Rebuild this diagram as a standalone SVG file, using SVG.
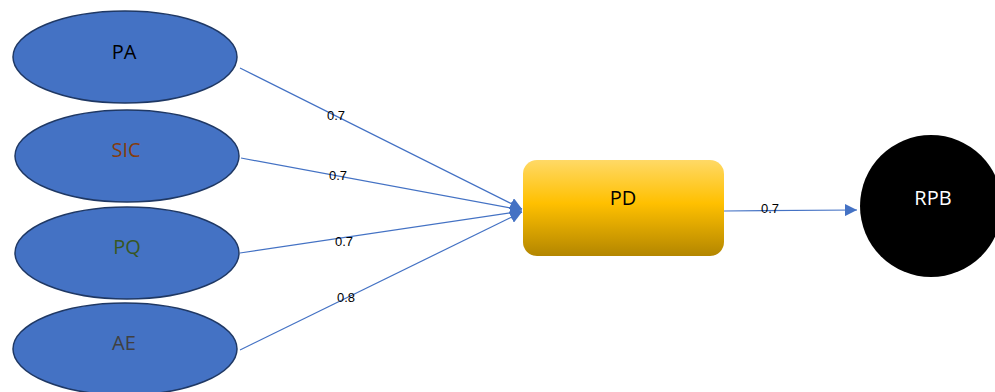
<svg xmlns="http://www.w3.org/2000/svg" width="995" height="392" viewBox="0 0 995 392">
<defs>
<linearGradient id="gold" x1="0" y1="0" x2="0" y2="1">
<stop offset="0" stop-color="#FFD966"/>
<stop offset="0.45" stop-color="#FFC000"/>
<stop offset="1" stop-color="#B38600"/>
</linearGradient>
<marker id="arr" viewBox="0 0 10 10" refX="10" refY="5" markerWidth="12" markerHeight="12" markerUnits="userSpaceOnUse" orient="auto">
<path d="M0,0 L10,5 L0,10 z" fill="#4472C4"/>
</marker>
<style>
.ell{fill:#4472C4;stroke:#1F3864;stroke-width:1.5}
.lbl{font-family:"Open Sans","Noto Sans",sans-serif;font-size:20px;text-anchor:middle}
.edge{stroke:#4472C4;stroke-width:1.2;fill:none;marker-end:url(#arr)}
.w{font-family:"Liberation Sans",Arial,sans-serif;font-size:13px;fill:#000;text-anchor:middle}
</style>
</defs>
<rect width="995" height="392" fill="#fff"/>
<g id="connectors">
<line class="edge" x1="240" y1="68" x2="522" y2="209"/>
<line class="edge" x1="241" y1="158" x2="522" y2="210"/>
<line class="edge" x1="240" y1="253" x2="522" y2="211"/>
<line class="edge" x1="240" y1="350" x2="522" y2="212"/>
<line class="edge" x1="724" y1="211" x2="857" y2="210"/>
<text class="w" x="336" y="120">0.7</text>
<text class="w" x="338" y="180">0.7</text>
<text class="w" x="344" y="246">0.7</text>
<text class="w" x="346" y="302">0.8</text>
<text class="w" x="770" y="213">0.7</text>
</g>
<g id="PA">
<ellipse class="ell" cx="125" cy="57" rx="112" ry="46"/>
<text class="lbl" x="124" y="54" fill="#000" dominant-baseline="middle">PA</text>
</g>
<g id="SIC">
<ellipse class="ell" cx="127" cy="156" rx="112" ry="46"/>
<text class="lbl" x="126" y="152" fill="#843C0C" dominant-baseline="middle">SIC</text>
</g>
<g id="PQ">
<ellipse class="ell" cx="127" cy="253" rx="112" ry="46"/>
<text class="lbl" x="127" y="249" fill="#385723" dominant-baseline="middle">PQ</text>
</g>
<g id="AE">
<ellipse class="ell" cx="125" cy="349" rx="112" ry="46"/>
<text class="lbl" x="124" y="345" fill="#404040" dominant-baseline="middle">AE</text>
</g>
<g id="PD">
<rect x="523" y="160" width="201" height="96" rx="14" fill="url(#gold)"/>
<text class="lbl" x="623" y="200" fill="#000" dominant-baseline="middle">PD</text>
</g>
<g id="RPB">
<circle cx="931" cy="206" r="71" fill="#000"/>
<text class="lbl" x="933" y="200" fill="#fff" dominant-baseline="middle">RPB</text>
</g>
</svg>
